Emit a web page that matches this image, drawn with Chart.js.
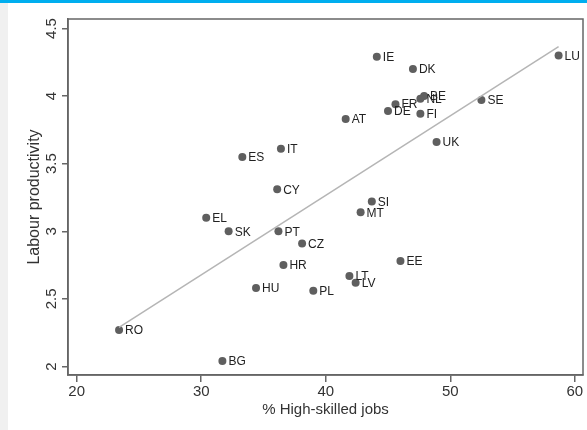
<!DOCTYPE html>
<html>
<head>
<meta charset="utf-8">
<title>Labour productivity vs high-skilled jobs</title>
<script src="https://cdn.jsdelivr.net/npm/chart.js@4.4.1/dist/chart.umd.min.js"></script>
<style>
  html, body { margin: 0; padding: 0; background: #fff; }
  #wrap { position: relative; width: 587px; height: 430px; overflow: hidden; }
  #topbar { position: absolute; left: 0; top: 0; width: 587px; height: 3px; background: #00aeef; }
  #side { position: absolute; left: 0; top: 3px; width: 8px; height: 427px; background: #f0f0f0; }
  canvas { position: absolute; left: 0; top: 0; }
</style>
</head>
<body>
<div id="wrap">
  <div id="topbar"></div>
  <div id="side"></div>
  <canvas id="scatter" width="587" height="430"></canvas>
</div>
<script>
// Country codes and values
const countries = ['LU', 'IE', 'DK', 'BE', 'NL', 'FR', 'DE', 'FI', 'SE', 'UK', 'AT', 'IT', 'ES',
  'CY', 'EL', 'SK', 'PT', 'CZ', 'SI', 'MT', 'HR', 'LT', 'LV', 'HU', 'PL', 'EE', 'RO', 'BG'];

// % high-skilled jobs
const highSkilled = [58.7, 44.1, 47.0, 47.9, 47.6, 45.6, 45.0, 47.6, 52.5, 48.9, 41.6, 36.4, 33.3,
  36.1, 30.4, 32.2, 36.2, 38.1, 43.7, 42.8, 36.6, 41.9, 42.4, 34.4, 39.0, 46.0, 23.4, 31.7];

// labour productivity
const productivity = [4.30, 4.29, 4.20, 4.00, 3.98, 3.94, 3.89, 3.87, 3.97, 3.66, 3.83, 3.61, 3.55,
  3.31, 3.10, 3.00, 3.00, 2.91, 3.22, 3.14, 2.75, 2.67, 2.62, 2.58, 2.56, 2.78, 2.27, 2.04];

// fitted line end points
const fitX = [23.4, 58.7];
const fitY = [2.29, 4.365];

const xTickValues = [20, 30, 40, 50, 60];
const yTickValues = [2, 2.5, 3, 3.5, 4, 4.5];

const axisColor = '#666666';
const textColor = '#333333';
const fontFamily = '"Liberation Sans", Arial, sans-serif';

// Country code next to each dot
const pointLabels = {
  id: 'pointLabels',
  afterDatasetsDraw(chart) {
    const ctx = chart.ctx;
    const meta = chart.getDatasetMeta(1);
    ctx.save();
    ctx.font = '12px ' + fontFamily;
    ctx.fillStyle = '#222222';
    ctx.textAlign = 'left';
    ctx.textBaseline = 'middle';
    meta.data.forEach((pt, i) => {
      ctx.fillText(countries[i], pt.x + 6, pt.y + 1);
    });
    ctx.restore();
  }
};

// Box round the plot region
const plotBox = {
  id: 'plotBox',
  afterDraw(chart) {
    const { left, top, right, bottom } = chart.chartArea;
    const ctx = chart.ctx;
    ctx.save();
    ctx.strokeStyle = axisColor;
    ctx.lineWidth = 1.5;
    ctx.strokeRect(left, top, right - left, bottom - top);
    ctx.restore();
  }
};

const ctx = document.getElementById('scatter').getContext('2d');

new Chart(ctx, {
  type: 'scatter',
  data: {
    datasets: [
      {
        type: 'line',
        label: 'Fit',
        data: fitX.map((x, i) => ({ x: x, y: fitY[i] })),
        borderColor: '#b5b5b5',
        borderWidth: 1.5,
        pointRadius: 0,
        fill: false
      },
      {
        label: 'Countries',
        data: highSkilled.map((x, i) => ({ x: x, y: productivity[i] })),
        backgroundColor: '#5f5f5f',
        borderColor: '#5f5f5f',
        borderWidth: 0,
        pointRadius: 4
      }
    ]
  },
  options: {
    responsive: false,
    animation: false,
    devicePixelRatio: 1,
    layout: { padding: { left: 0, top: 19, right: 2, bottom: 0 } },
    plugins: {
      legend: { display: false },
      tooltip: { enabled: false }
    },
    scales: {
      x: {
        type: 'linear',
        min: 19.3,
        max: 60.66,
        afterBuildTicks: scale => { scale.ticks = xTickValues.map(v => ({ value: v })); },
        afterFit: scale => { scale.height = 55; },
        border: { display: true, color: axisColor, width: 1.5 },
        grid: { display: true, drawOnChartArea: false, drawTicks: true, tickLength: 7, color: axisColor, lineWidth: 1.5 },
        ticks: { color: textColor, font: { family: fontFamily, size: 15 }, padding: 1, maxRotation: 0 },
        title: {
          display: true,
          text: '% High-skilled jobs',
          color: textColor,
          font: { family: fontFamily, size: 15 },
          padding: { top: 0, bottom: 11 }
        }
      },
      y: {
        type: 'linear',
        min: 1.937,
        max: 4.57,
        afterBuildTicks: scale => { scale.ticks = yTickValues.map(v => ({ value: v })); },
        afterFit: scale => { scale.width = 68; },
        border: { display: true, color: axisColor, width: 1.5 },
        grid: { display: true, drawOnChartArea: false, drawTicks: true, tickLength: 6, color: axisColor, lineWidth: 1.5 },
        ticks: {
          color: textColor,
          font: { family: fontFamily, size: 15 },
          padding: 0,
          minRotation: 90,
          maxRotation: 90,
          crossAlign: 'center',
          callback: v => String(v)
        },
        title: {
          display: true,
          text: 'Labour productivity',
          color: textColor,
          font: { family: fontFamily, size: 16 },
          padding: { top: 25, bottom: 0 }
        }
      }
    }
  },
  plugins: [pointLabels, plotBox]
});
</script>
</body>
</html>
